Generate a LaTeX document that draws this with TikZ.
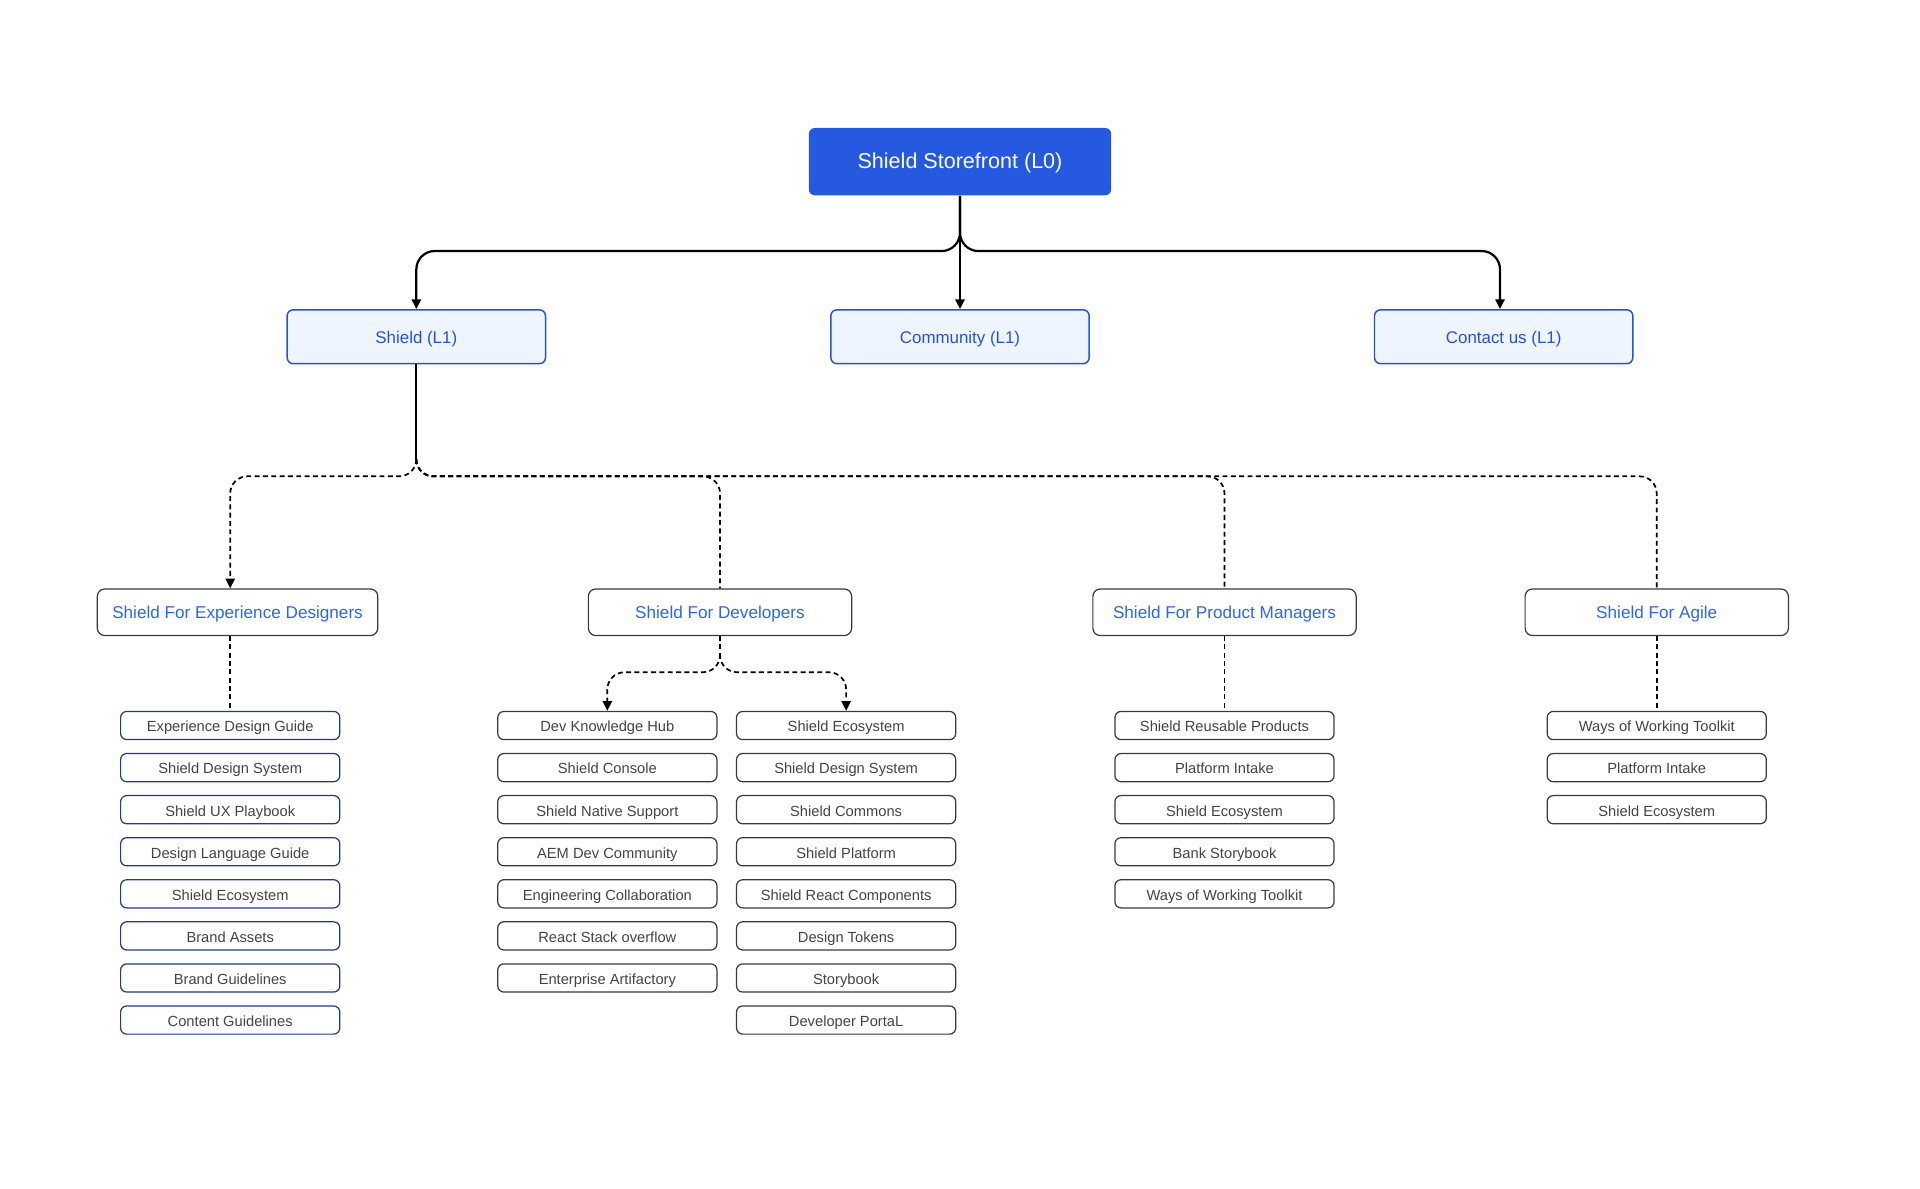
\documentclass[tikz,border=0pt]{standalone}
\usepackage{fontspec}
\setmainfont{Liberation Sans}
\usetikzlibrary{arrows.meta,calc}
\definecolor{rootblue}{HTML}{2459E0}
\definecolor{lonefill}{HTML}{EEF5FE}
\definecolor{loneblue}{HTML}{2354D4}
\definecolor{ltwoblue}{HTML}{2D66EE}
\definecolor{navyline}{HTML}{1E3A8A}
\definecolor{boxline}{HTML}{3A3A3A}
\definecolor{leaftext}{HTML}{444444}
\tikzset{
    boxbase/.style={rectangle, inner sep=0pt, text height=0.72em, text depth=0.2em},
    root/.style={boxbase, rounded corners=2.5pt, fill=rootblue, text=white,
        minimum width=123.5pt, minimum height=27.5pt, font=\fontsize{8.8}{10}\selectfont},
    levelone/.style={boxbase, rounded corners=2.5pt, draw=loneblue, line width=0.6pt, fill=lonefill,
        text=loneblue, minimum width=105.5pt, minimum height=22pt, font=\fontsize{6.9}{8}\selectfont},
    leveltwo/.style={boxbase, rounded corners=3pt, draw=boxline, line width=0.5pt, fill=white,
        text=ltwoblue, minimum width=107.5pt, minimum height=19pt, font=\fontsize{7}{8}\selectfont},
    leaf/.style={boxbase, rounded corners=2.5pt, draw=boxline, line width=0.5pt, fill=white,
        text=leaftext, minimum width=89.5pt, minimum height=11.5pt, font=\fontsize{6}{7}\selectfont},
    leafnavy/.style={leaf, draw=navyline},
    solidlink/.style={draw=black, line width=0.9pt, rounded corners=7.5pt},
    dashlink/.style={draw=black, line width=0.7pt, rounded corners=7pt, dash pattern=on 2pt off 1.4pt},
    tip/.style={-{Triangle[length=4pt,width=3.8pt]}},
}
\begin{document}
\begin{tikzpicture}[x=0.5pt,y=-0.5pt]
\useasboundingbox (0,0) rectangle (1568,971);
\node[root] (l0) at (784,132) {Shield Storefront (L0)};
\node[levelone] (shield) at (340,275) {Shield (L1)};
\node[levelone] (community) at (784,275) {Community (L1)};
\node[levelone] (contact) at (1228,275) {Contact us (L1)};
\node[leveltwo, minimum width=114.5pt] (exp) at (194,500) {Shield For Experience Designers};
\node[leveltwo] (dev) at (588,500) {Shield For Developers};
\node[leveltwo] (pm) at (1000,500) {Shield For Product Managers};
\node[leveltwo] (agile) at (1353,500) {Shield For Agile};
\foreach \t [count=\i] in {Experience Design Guide, Shield Design System, Shield UX Playbook, Design Language Guide, Shield Ecosystem, Brand Assets, Brand Guidelines, Content Guidelines}
    \node[leafnavy] (e\i) at (188,{558.14+34.36*\i}) {\t};
\foreach \t [count=\i] in {Dev Knowledge Hub, Shield Console, Shield Native Support, AEM Dev Community, Engineering Collaboration, React Stack overflow, Enterprise Artifactory}
    \node[leaf] (d\i) at (496,{558.14+34.36*\i}) {\t};
\foreach \t [count=\i] in {Shield Ecosystem, Shield Design System, Shield Commons, Shield Platform, Shield React Components, Design Tokens, Storybook, Developer PortaL}
    \node[leaf] (r\i) at (691,{558.14+34.36*\i}) {\t};
\foreach \t [count=\i] in {Shield Reusable Products, Platform Intake, Shield Ecosystem, Bank Storybook, Ways of Working Toolkit}
    \node[leaf] (p\i) at (1000,{558.14+34.36*\i}) {\t};
\foreach \t [count=\i] in {Ways of Working Toolkit, Platform Intake, Shield Ecosystem}
    \node[leaf] (a\i) at (1353,{558.14+34.36*\i}) {\t};
\coordinate (j0) at (784,205);
\coordinate (j1) at (340,375);
\coordinate (h1) at (340,389);
\coordinate (j2) at (588,536);
\coordinate (h2) at (588,549);
\draw[solidlink,tip] (l0.south) -- (j0) -| (shield.north);
\draw[solidlink,tip] (l0.south) -- (community.north);
\draw[solidlink,tip] (l0.south) -- (j0) -| ($(contact.north)+(-3,0)$);
\draw[solidlink] (shield.south) -- (j1);
\draw[dashlink,tip] (j1) -- (h1) -| (e1.north |- exp.north);
\draw[dashlink] (j1) -- (h1) -| (dev.north);
\draw[dashlink] (j1) -- (h1) -| (pm.north);
\draw[dashlink] (j1) -- (h1) -| (agile.north);
\draw[dashlink] (e1.north |- exp.south) -- (e1.north);
\draw[dashlink] (dev.south) -- (j2);
\draw[dashlink,tip] (j2) -- (h2) -| (d1.north);
\draw[dashlink,tip] (j2) -- (h2) -| (r1.north);
\draw[dashlink] (pm.south) -- (p1.north);
\draw[dashlink] (agile.south) -- (a1.north);
\end{tikzpicture}
\end{document}
